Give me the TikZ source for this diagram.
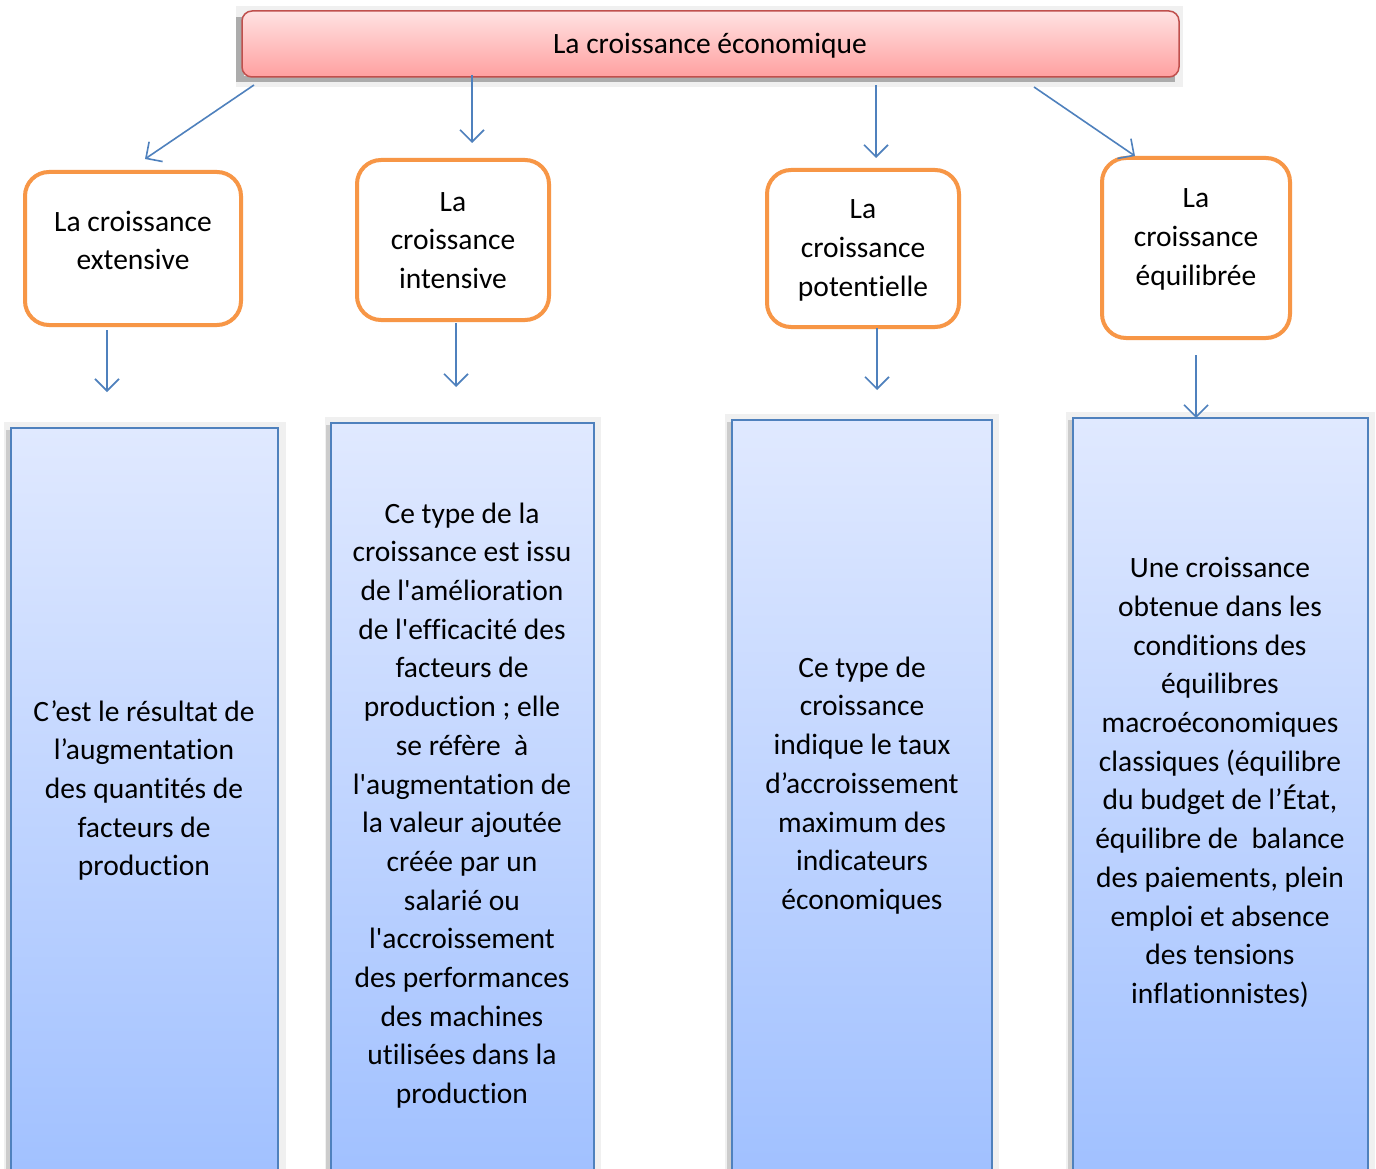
\documentclass[tikz,border=0pt]{standalone}
\usepackage{fontspec}
\setmainfont{Carlito}[Ligatures={NoCommon}]
\usetikzlibrary{arrows.meta,calc}
\definecolor{arrblue}{RGB}{79,129,189}
\definecolor{boxorange}{RGB}{247,150,70}
\definecolor{redborder}{RGB}{192,80,77}
\definecolor{redtop}{RGB}{255,226,226}
\definecolor{redbot}{RGB}{255,160,160}
\definecolor{bluetop}{RGB}{224,233,255}
\definecolor{bluebot}{RGB}{160,192,255}
\definecolor{shadowgray}{RGB}{240,240,240}
\newcommand{\apo}{\textquotesingle}
\tikzset{
  txt/.style={font=\fontsize{29.5}{38.7}\selectfont, align=center, inner sep=0pt, text=black, yshift=-2.5pt},
  topbox/.style={draw=redborder, line width=1.5pt, rounded corners=10pt, top color=redtop, bottom color=redbot, minimum width=937pt, minimum height=66pt, anchor=north west, inner sep=0pt, outer sep=0pt},
  orangebox/.style={draw=boxorange, line width=4pt, rounded corners=24pt, fill=white, anchor=north west, inner sep=0pt, outer sep=0pt},
  bluebox/.style={draw=arrblue, line width=1.8pt, top color=bluetop, bottom color=bluebot, anchor=north west, inner sep=0pt, outer sep=0pt},
  arr/.style={draw=arrblue, line width=1.6pt, -{Straight Barb[length=12pt,width=24pt,line width=1.6pt]}},
}
\begin{document}
\begin{tikzpicture}[x=1pt,y=-1pt]
\useasboundingbox (0,0) rectangle (1376,1169);
\clip (0,0) rectangle (1376,1169);
\fill[white] (0,0) rectangle (1376,1169);

% shadows
\fill[shadowgray] (236,6) rectangle (1183,87);
\fill[gray!65] (236,17) rectangle (244,82);
\fill[gray!65] (244,76) rectangle (1175,82);
\fill[shadowgray] (4,422) rectangle (286,1169);
\fill[gray!40] (6,430) rectangle (12,1169);
\fill[shadowgray] (325,417) rectangle (601,1169);
\fill[gray!40] (326,425) rectangle (332,1169);
\fill[shadowgray] (725,414) rectangle (999,1169);
\fill[gray!40] (727,422) rectangle (733,1169);
\fill[shadowgray] (1066,412) rectangle (1375,1169);
\fill[gray!40] (1068,420) rectangle (1074,1169);

% top
\node[topbox] (top) at (242,11) {};
\node[txt] (toptxt) at (710,43) {La croissance économique};

% orange boxes
\node[orangebox, minimum width=216pt, minimum height=153pt] (b1) at (25,172) {};
\node[orangebox, minimum width=192pt, minimum height=160pt] (b2) at (357,160) {};
\node[orangebox, minimum width=192pt, minimum height=157pt] (b3) at (767,170) {};
\node[orangebox, minimum width=188pt, minimum height=180pt] (b4) at (1102,158) {};
\node[txt] (t1) at (133,238) {La croissance\\extensive};
\node[txt] (t2) at (453,238) {La\\croissance\\intensive};
\node[txt] (t3) at (863,248) {La\\croissance\\potentielle};
\node[txt] (t4) at (1196,237) {La\\croissance\\équilibrée};

% blue boxes
\node[bluebox, minimum width=267pt, minimum height=760pt] (d1) at (11,428) {};
\node[bluebox, minimum width=263pt, minimum height=760pt] (d2) at (331,423) {};
\node[bluebox, minimum width=260pt, minimum height=760pt] (d3) at (732,420) {};
\node[bluebox, minimum width=295pt, minimum height=760pt] (d4) at (1073,418) {};

\node[txt] (e1) at (144,788) {C’est le résultat de\\l’augmentation\\des quantités de\\facteurs de\\production};
\node[txt] (e2) at (462,803) {Ce type de la\\croissance est issu\\de l\apo amélioration\\de l\apo efficacité des\\facteurs de\\production ; elle\\se réfère\ \ à\\l\apo augmentation de\\la valeur ajoutée\\créée par un\\salarié ou\\l\apo accroissement\\des performances\\des machines\\utilisées dans la\\production};
\node[txt] (e3) at (862,783) {Ce type de\\croissance\\indique le taux\\d’accroissement\\maximum des\\indicateurs\\économiques};
\node[txt] (e4) at (1220,780) {Une croissance\\obtenue dans les\\conditions des\\équilibres\\macroéconomiques\\classiques (équilibre\\du budget de l’État,\\équilibre de\ \ balance\\des paiements, plein\\emploi et absence\\des tensions\\inflationnistes)};

% arrows top -> orange
\draw[arr] ($(top.south west)+(12,8)$) -- ($(b1.north)+(12,-13)$);
\draw[arr] ($(top.south west)+(230,-2)$) -- ($(b2.north)+(19,-17)$);
\draw[arr] ($(top.south west)+(634,8)$) -- ($(b3.north)+(13,-12)$);
\draw[arr] ($(top.south west)+(792,10)$) -- ($(b4.north)+(-61,-2)$);

% arrows orange -> blue
\draw[arr] ($(b1.south)+(-26,5)$) -- ($(d1.north)+(-37.5,-36)$);
\draw[arr] ($(b2.south)+(3,3)$) -- ($(d2.north)+(-6.5,-36)$);
\draw[arr] ($(b3.south)+(14,1)$) -- ($(d3.north)+(15,-30)$);
\draw[arr] ($(b4.south)+(0,17)$) -- ($(d4.north)+(-24.5,0)$);
\end{tikzpicture}
\end{document}
